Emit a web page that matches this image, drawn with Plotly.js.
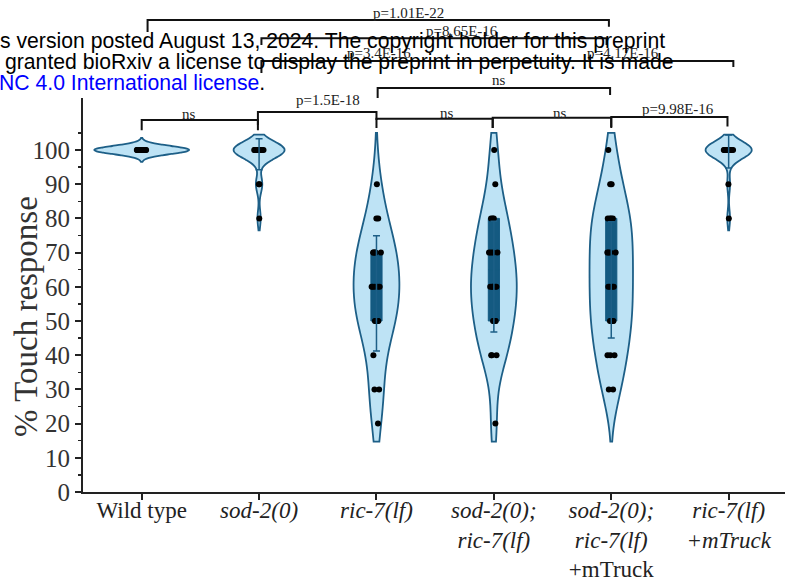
<!DOCTYPE html>
<html>
<head>
<meta charset="utf-8">
<script src="https://cdn.plot.ly/plotly-3.0.1.min.js"></script>
<style>html,body{margin:0;padding:0;background:#fff;}#chart{width:785px;height:582px;}</style>
</head>
<body>
<div id="chart"></div>
<script>
// ---------------- data ----------------
const categories = ['Wild type', 'sod-2(0)', 'ric-7(lf)', 'sod-2(0); ric-7(lf)', 'sod-2(0); ric-7(lf) +mTruck', 'ric-7(lf) +mTruck'];
const tickLabels = [
  'Wild type',
  '<i>sod-2(0)</i>',
  '<i>ric-7(lf)</i>',
  '<i>sod-2(0);</i><br><i>ric-7(lf)</i>',
  '<i>sod-2(0);</i><br><i>ric-7(lf)</i><br>+mTruck',
  '<i>ric-7(lf)</i><br><i>+mTruck</i>'
];
const wildType = [100,100,100,100,100,100,100,100,100,100,100,100,100,100,100,100,100,100,100,100];
const sod2 = [100,100,100,100,100,100,100,100,100,100,100,100,100,100,100,100,90,90,80];
const ric7 = [20,30,30,40,50,50,50,50,50,60,60,60,60,60,70,70,70,70,70,80,80,90];
const sod2ric7 = [20,40,40,40,50,50,50,50,60,60,60,60,60,70,70,70,70,80,80,80,90,100];
const sod2ric7mTruck = [30,30,40,40,40,50,50,50,50,60,60,60,60,70,70,70,70,80,80,80,80,90,90,100];
const ric7mTruck = [100,100,100,100,100,100,100,100,100,100,100,100,100,100,100,100,100,90,80];
const groups = [wildType, sod2, ric7, sod2ric7, sod2ric7mTruck, ric7mTruck];

// interquartile boxes
const iqrCats = [2, 3, 4];
const q1Vals = [50, 50, 50];
const medVals = [60, 65, 60];
const q3Vals = [70, 80, 80];

// mean +/- SD bars
const sdCats = [1, 2, 3, 4, 5];
const meanVals = [98.75, 58.05, 63, 62, 99.55];
const sdVals = [4.55, 16.85, 16.2, 17, 4.85];

// significance labels
const pLabels = ['ns', 'p=1.5E-18', 'ns', 'ns', 'p=9.98E-16', 'ns', 'p=3.4E-16', 'p=4.17E-16', 'p=8.65E-16', 'p=1.01E-22'];

// ---------------- styling ----------------
const violinFill = '#bee3f5';
const violinLine = '#1d5f87';
const boxFill = '#145a81';
const serif = 'Liberation Serif, Times New Roman, serif';
const sans = 'Liberation Sans, Arial, sans-serif';
const yMax = 115.2;

const violinStyle = [
  {width: 0.81, bw: 1.2, span: [96.5, 103.5]},
  {width: 0.43, bw: 2.5, span: [76.5, 104.5]},
  {width: 0.39, bw: 9, span: [14.7, 105]},
  {width: 0.39, bw: 8, span: [14.7, 105]},
  {width: 0.37, bw: 8, span: [14.7, 105]},
  {width: 0.39, bw: 2.5, span: [76.5, 104.5]}
];

const traces = [];
groups.forEach((g, i) => {
  const s = violinStyle[i];
  traces.push({
    type: 'violin', x0: i, y: g, name: categories[i],
    width: s.width, bandwidth: s.bw, spanmode: 'manual', span: s.span,
    scalemode: 'width', points: false, box: {visible: false}, meanline: {visible: false},
    fillcolor: violinFill, line: {color: violinLine, width: 1.8},
    hoverinfo: 'skip', showlegend: false
  });
});

traces.push({
  type: 'box', x: iqrCats, q1: q1Vals, median: medVals, q3: q3Vals,
  lowerfence: q1Vals, upperfence: q3Vals, width: 0.095,
  fillcolor: boxFill, line: {color: boxFill, width: 1}, whiskerwidth: 0,
  boxpoints: false, hoverinfo: 'skip', showlegend: false
});

groups.forEach((g, i) => {
  traces.push({
    type: 'box', x0: i, y: g, width: 0.085,
    boxpoints: 'all', jitter: 1, pointpos: 0,
    fillcolor: 'rgba(0,0,0,0)', line: {color: 'rgba(0,0,0,0)', width: 0}, whiskerwidth: 0,
    marker: {color: '#000', size: 6, line: {width: 0}},
    hoverinfo: 'skip', showlegend: false
  });
});

traces.push({
  type: 'scatter', mode: 'markers', x: sdCats, y: meanVals,
  marker: {color: 'rgba(0,0,0,0)', size: 1},
  error_y: {type: 'data', array: sdVals, visible: true, color: violinLine, thickness: 1.5, width: 3.5},
  hoverinfo: 'skip', showlegend: false
});

// ---------------- brackets ----------------
const toPaper = v => v / yMax;
const bracketGeom = [
  {x1: 0.0,  x2: 0.99, y: 108.8, t1: 105.8, t2: 105.8, lx: 0.40, ly: 110.5},
  {x1: 0.99, x2: 2.0,  y: 111.1, t1: 107.3, t2: 108.8, lx: 1.59, ly: 114.7},
  {x1: 2.0,  x2: 2.99, y: 109.1, t1: 106.4, t2: 106.4, lx: 2.60, ly: 110.9},
  {x1: 2.99, x2: 4.0,  y: 109.4, t1: 106.4, t2: 106.4, lx: 3.56, ly: 110.9},
  {x1: 4.0,  x2: 4.99, y: 109.65, t1: 106.7, t2: 106.9, lx: 4.57, ly: 112.0},
  {x1: 2.01, x2: 3.99, y: 118.1, t1: 115.2, t2: 116.1, lx: 3.04, ly: 120.5},
  {x1: 1.02, x2: 3.0,  y: 126.0, t1: 122.5, t2: 126.0, lx: 2.02, ly: 128.4},
  {x1: 3.0,  x2: 5.04, y: 126.0, t1: 126.0, t2: 124.3, lx: 4.10, ly: 128.4},
  {x1: 1.02, x2: 3.96, y: 132.7, t1: 130.7, t2: 130.7, lx: 2.73, ly: 134.8},
  {x1: 0.05, x2: 3.98, y: 138.0, t1: 134.5, t2: 136.0, lx: 2.27, ly: 140.1}
];
const shapes = bracketGeom.map(b => ({
  type: 'path', xref: 'x', yref: 'paper',
  path: `M ${b.x1},${toPaper(b.t1)} L ${b.x1},${toPaper(b.y)} L ${b.x2},${toPaper(b.y)} L ${b.x2},${toPaper(b.t2)}`,
  line: {color: '#111', width: 2}
}));
const annotations = bracketGeom.map((b, i) => ({
  xref: 'x', yref: 'paper', x: b.lx, y: toPaper(b.ly), text: pLabels[i],
  showarrow: false, xanchor: 'center', yanchor: 'middle',
  font: {family: serif, size: 15, color: '#222'}
}));

// watermark text (bioRxiv header)
const plotW = 702, plotH = 394, mL = 83, mT = 98;
const pxX = px => (px - mL) / plotW;
const pxY = py => (mT + plotH - py) / plotH;
annotations.push(
  {xref: 'paper', yref: 'paper', x: pxX(-2), y: pxY(41), xanchor: 'left', yanchor: 'middle', showarrow: false,
   text: 's version posted August 13, 2024. The copyright holder for this preprint', font: {family: sans, size: 21.2, color: '#000'}},
  {xref: 'paper', yref: 'paper', x: pxX(3), y: pxY(62), xanchor: 'left', yanchor: 'middle', showarrow: false,
   text: 'granted bioRxiv a license to display the preprint in perpetuity. It is made', font: {family: sans, size: 21.2, color: '#000'}},
  {xref: 'paper', yref: 'paper', x: pxX(-3), y: pxY(83), xanchor: 'left', yanchor: 'middle', showarrow: false,
   text: '<span style="color:#0000ff">NC 4.0 International license</span>.', font: {family: sans, size: 21.2, color: '#000'}},
  {xref: 'paper', yref: 'paper', x: pxX(26), y: pxY(317), xanchor: 'center', yanchor: 'middle', showarrow: false,
   textangle: -90, text: '% Touch response', font: {family: serif, size: 33, color: '#333'}}
);

const layout = {
  width: 785, height: 582,
  margin: {l: mL, r: 0, t: mT, b: 90, pad: 0},
  paper_bgcolor: '#fff', plot_bgcolor: '#fff',
  showlegend: false, violinmode: 'overlay', boxmode: 'overlay',
  xaxis: {
    range: [-0.5, 5.48], tickmode: 'array', tickvals: [0, 1, 2, 3, 4, 5], ticktext: tickLabels,
    ticks: 'outside', ticklen: 6, tickwidth: 2, tickcolor: '#222', ticklabelstandoff: -10,
    showline: true, linecolor: '#222', linewidth: 2, showgrid: false, zeroline: false,
    tickfont: {family: serif, size: 23, color: '#222'}
  },
  yaxis: {
    range: [0, yMax], tickmode: 'array', tickvals: [0,10,20,30,40,50,60,70,80,90,100],
    ticks: 'outside', ticklen: 6, tickwidth: 2, tickcolor: '#222',
    minor: {tickmode: 'array', tickvals: [5,15,25,35,45,55,65,75,85,95,105], ticks: 'outside', ticklen: 3, tickwidth: 1.5, tickcolor: '#222', showgrid: false},
    showline: true, linecolor: '#222', linewidth: 2, showgrid: false, zeroline: false,
    tickfont: {family: serif, size: 25, color: '#333'}
  },
  shapes: shapes,
  annotations: annotations
};

Plotly.newPlot('chart', traces, layout, {displayModeBar: false, staticPlot: true});
</script>
</body>
</html>
